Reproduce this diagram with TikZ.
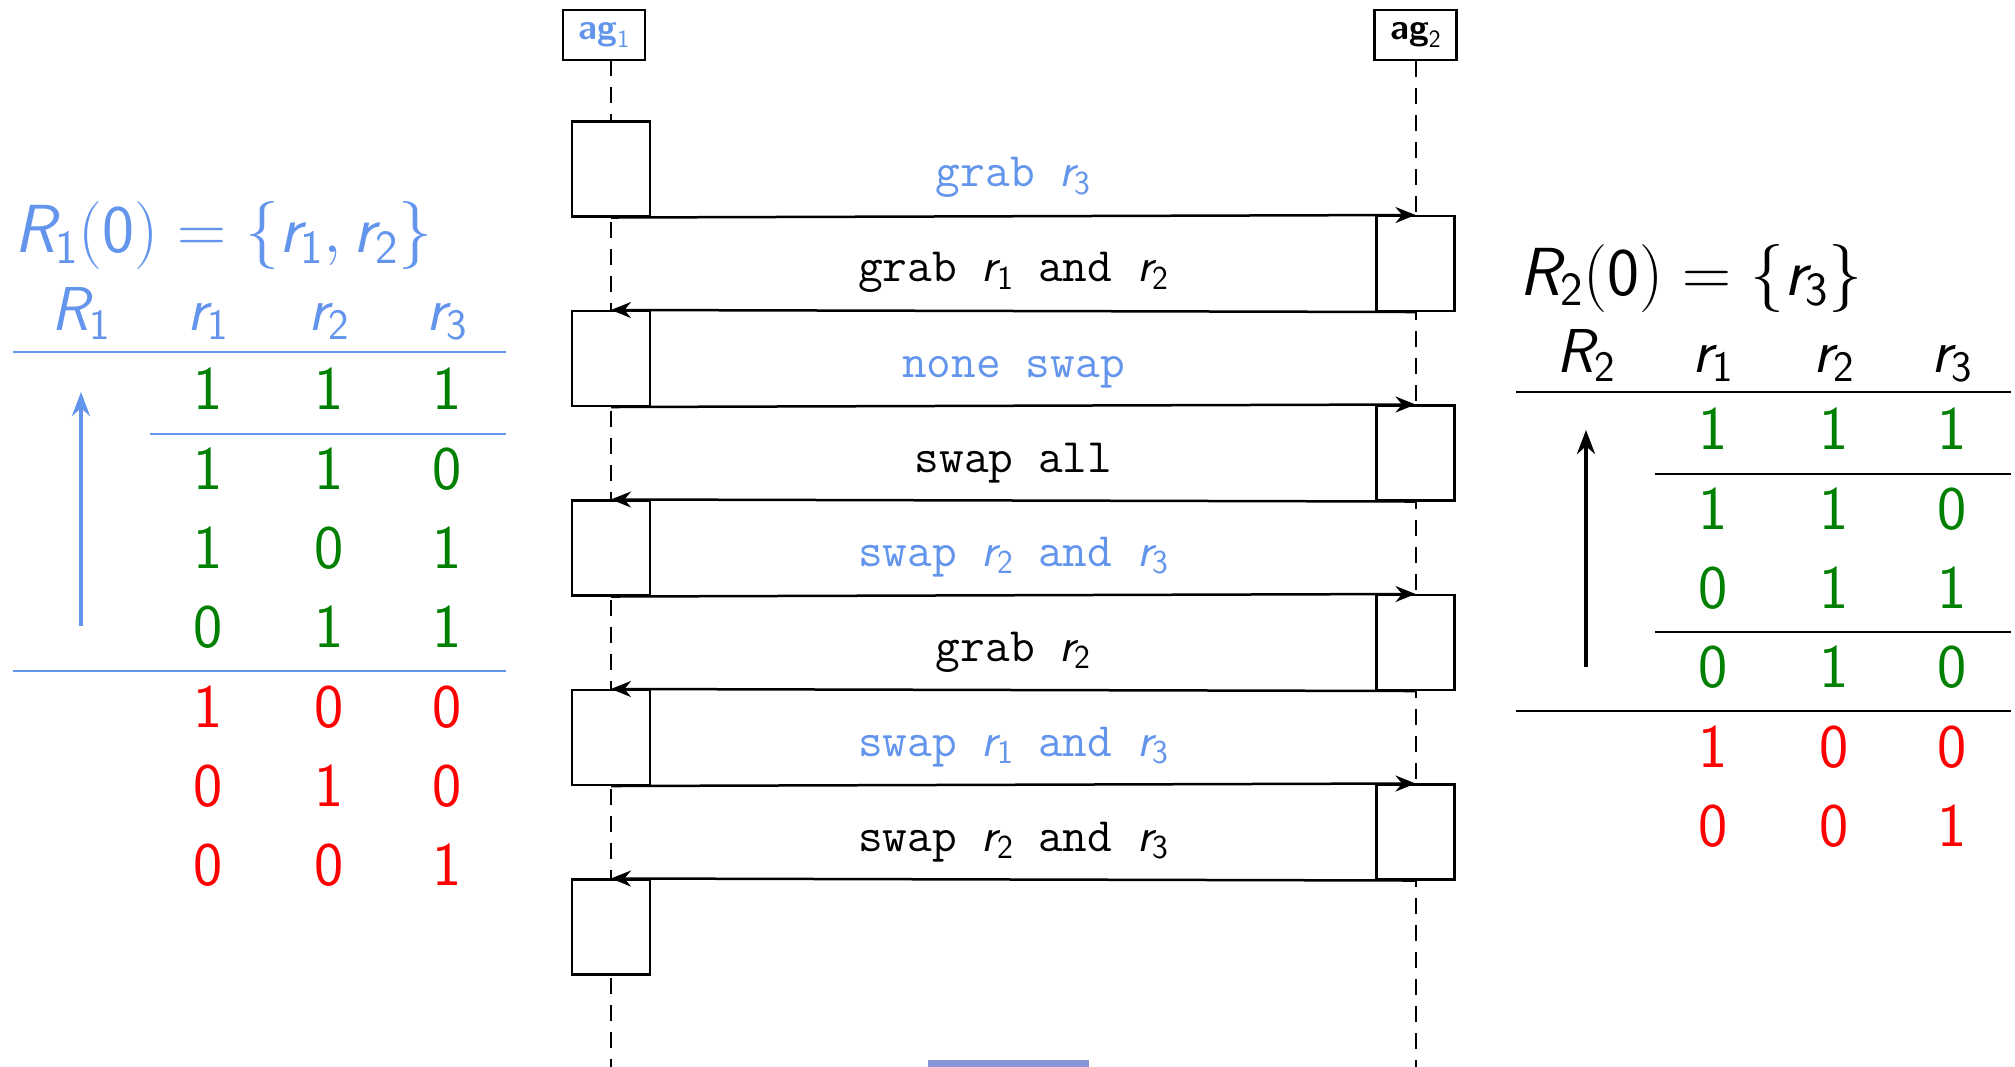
\RequirePackage{fix-cm}
\documentclass[tikz,border=0pt]{standalone}
\usepackage{amsmath}
\usepackage{fontspec}
\usetikzlibrary{arrows.meta}
\definecolor{cblue}{RGB}{100,149,237}
\definecolor{cgreen}{RGB}{0,128,0}
\definecolor{cred}{RGB}{255,0,0}
\definecolor{barblue}{RGB}{134,150,216}
\newcommand{\sv}[2]{\textsf{\itshape #1}_{\textsf{\upshape\mdseries #2}}}
\newcommand{\agname}[1]{ag\raisebox{-8pt}{\fontsize{25}{28}\selectfont\mdseries #1}}
\tikzset{
  agent/.style={draw, line width=2.2pt, minimum width=82pt, minimum height=50pt, inner sep=0pt,
    font=\fontsize{36}{42}\selectfont\sffamily\bfseries},
  act/.style={draw, fill=white, line width=2.2pt, minimum width=78pt, minimum height=94.85pt, inner sep=0pt},
  life/.style={line width=2pt, dash pattern=on 16pt off 11pt},
  msg/.style={line width=2.5pt, -{Stealth[length=20pt,width=16pt]}},
  lbl/.style={anchor=base, inner sep=0pt, font=\fontsize{48}{58}\selectfont\ttfamily},
  cell/.style={inner sep=0pt, font=\fontsize{62}{74}\selectfont\sffamily},
  hdr/.style={cell, anchor=base},
  ttl/.style={inner sep=0pt, anchor=base west, font=\fontsize{68}{80}\selectfont\sffamily},
  tline/.style={line width=2pt},
  tarrow/.style={line width=4pt, -{Stealth[length=24pt,width=18pt]}},
}
\begin{document}
\begin{tikzpicture}[x=1pt,y=-1pt]
\fill[white] (0,0) rectangle (2015,1067);
\useasboundingbox (0,0) rectangle (2015,1067);

% agents
\node[agent, text=cblue] (ag1) at (604,35) {\agname{1}};
\node[agent] (ag2) at (1415.5,35) {\agname{2}};
\coordinate (l1a) at (611,60);
\coordinate (l1b) at (611,1067);
\coordinate (l2b) at (1415.5,1067);
\draw[life] (l1a) -- (l1b);
\draw[life] (ag2.south) -- (l2b);

% activation boxes
\node[act] (b1) at (611,169) {};
\node[act] (b2) at (611,358.5) {};
\node[act] (b3) at (611,548) {};
\node[act] (b4) at (611,737.5) {};
\node[act] (b5) at (611,927) {};
\node[act] (c1) at (1415.5,263.5) {};
\node[act] (c2) at (1415.5,453) {};
\node[act] (c3) at (1415.5,642.5) {};
\node[act] (c4) at (1415.5,832) {};

% messages
\draw[msg] (b1.south) -- (c1.north);
\draw[msg] (c1.south) -- (b2.north);
\draw[msg] (b2.south) -- (c2.north);
\draw[msg] (c2.south) -- (b3.north);
\draw[msg] (b3.south) -- (c3.north);
\draw[msg] (c3.south) -- (b4.north);
\draw[msg] (b4.south) -- (c4.north);
\draw[msg] (c4.south) -- (b5.north);

\node[lbl, text=cblue] (m1) at (1013.5,187) {grab $\sv{r}{3}$};
\node[lbl] (m2) at (1013.5,282) {grab $\sv{r}{1}$ and $\sv{r}{2}$};
\node[lbl, text=cblue] (m3) at (1013.5,377) {none swap};
\node[lbl] (m4) at (1013.5,472) {swap all};
\node[lbl, text=cblue] (m5) at (1013.5,566) {swap $\sv{r}{2}$ and $\sv{r}{3}$};
\node[lbl] (m6) at (1013.5,661) {grab $\sv{r}{2}$};
\node[lbl, text=cblue] (m7) at (1013.5,756) {swap $\sv{r}{1}$ and $\sv{r}{3}$};
\node[lbl] (m8) at (1013.5,851) {swap $\sv{r}{2}$ and $\sv{r}{3}$};

% left table
\begin{scope}[text=cblue]
\node[ttl] (t1) at (14,253) {$\sv{R}{1}(\textsf{0}) = \{\sv{r}{1}, \sv{r}{2}\}$};
\node[hdr] (h10) at (81,330) {$\sv{R}{1}$};
\node[hdr] (h11) at (208,330) {$\sv{r}{1}$};
\node[hdr] (h12) at (329,330) {$\sv{r}{2}$};
\node[hdr] (h13) at (447,330) {$\sv{r}{3}$};
\end{scope}
\draw[tline, cblue] (13,352) -- (506,352);
\draw[tline, cblue] (150,434) -- (506,434);
\draw[tline, cblue] (13,671) -- (506,671);
\coordinate (la1) at (81,626);
\coordinate (la2) at (81,392);
\draw[tarrow, cblue] (la1) -- (la2);
\begin{scope}[text=cgreen]
\node[cell] at (208,389) {1}; \node[cell] at (329,389) {1}; \node[cell] at (447,389) {1};
\node[cell] at (208,469) {1}; \node[cell] at (329,469) {1}; \node[cell] at (447,469) {0};
\node[cell] at (208,548) {1}; \node[cell] at (329,548) {0}; \node[cell] at (447,548) {1};
\node[cell] at (208,627) {0}; \node[cell] at (329,627) {1}; \node[cell] at (447,627) {1};
\end{scope}
\begin{scope}[text=cred]
\node[cell] at (208,707) {1}; \node[cell] at (329,707) {0}; \node[cell] at (447,707) {0};
\node[cell] at (208,786) {0}; \node[cell] at (329,786) {1}; \node[cell] at (447,786) {0};
\node[cell] at (208,865) {0}; \node[cell] at (329,865) {0}; \node[cell] at (447,865) {1};
\end{scope}

% right table
\begin{scope}[shift={(1505,40)}]
\node[ttl] (t2) at (14,255) {$\sv{R}{2}(\textsf{0}) = \{\sv{r}{3}\}$};
\node[hdr] (h20) at (81,332) {$\sv{R}{2}$};
\node[hdr] (h21) at (208,332) {$\sv{r}{1}$};
\node[hdr] (h22) at (329,332) {$\sv{r}{2}$};
\node[hdr] (h23) at (447,332) {$\sv{r}{3}$};
\draw[tline] (11,352) -- (506,352);
\draw[tline] (150,434) -- (506,434);
\draw[tline] (150,592) -- (506,592);
\draw[tline] (11,671) -- (506,671);
\coordinate (ra1) at (81,627);
\coordinate (ra2) at (81,390);
\draw[tarrow] (ra1) -- (ra2);
\begin{scope}[text=cgreen]
\node[cell] at (208,389) {1}; \node[cell] at (329,389) {1}; \node[cell] at (447,389) {1};
\node[cell] at (208,469) {1}; \node[cell] at (329,469) {1}; \node[cell] at (447,469) {0};
\node[cell] at (208,548) {0}; \node[cell] at (329,548) {1}; \node[cell] at (447,548) {1};
\node[cell] at (208,627) {0}; \node[cell] at (329,627) {1}; \node[cell] at (447,627) {0};
\end{scope}
\begin{scope}[text=cred]
\node[cell] at (208,707) {1}; \node[cell] at (329,707) {0}; \node[cell] at (447,707) {0};
\node[cell] at (208,786) {0}; \node[cell] at (329,786) {0}; \node[cell] at (447,786) {1};
\end{scope}
\end{scope}

% bottom bar
\fill[barblue] (928,1060) rectangle (1089,1067);
\end{tikzpicture}
\end{document}
